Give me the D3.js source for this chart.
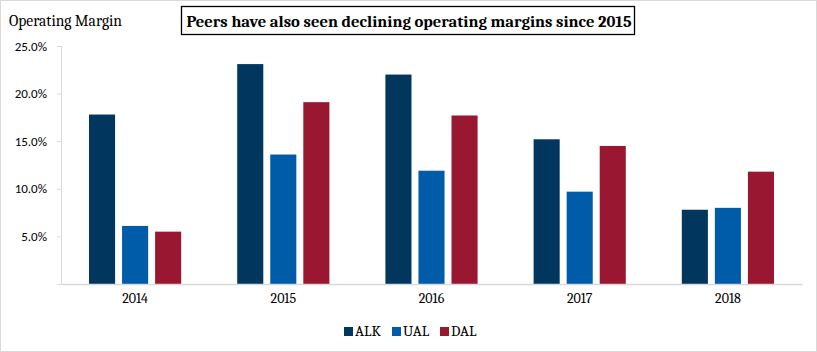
<!DOCTYPE html>
<html>
<head>
<meta charset="utf-8">
<script src="https://cdn.jsdelivr.net/npm/d3@7"></script>
<style>
  body { margin: 0; background: #fff; }
  svg { display: block; }
</style>
</head>
<body>
<svg id="drawing_region"></svg>
<script>
// chart data
const years = ['2014', '2015', '2016', '2017', '2018'];
const carriers = ['ALK', 'UAL', 'DAL'];
const ALK = [17.8, 23.1, 22.0, 15.2, 7.8];
const UAL = [6.1, 13.6, 11.9, 9.7, 8.0];
const DAL = [5.5, 19.1, 17.7, 14.5, 11.8];
const yTicks = [5, 10, 15, 20, 25];
const colors = ['#01375f', '#005ca9', '#9a1732'];

const width = 817, height = 352;
const margin = {top: 46, right: 15, bottom: 68, left: 61};
const innerW = width - margin.left - margin.right;
const innerH = height - margin.top - margin.bottom;

const svg = d3.select('#drawing_region')
    .attr('width', width)
    .attr('height', height);

// outer frame
svg.append('rect')
    .attr('x', 0.5).attr('y', 0.5)
    .attr('width', width - 1).attr('height', height - 1)
    .attr('fill', 'none')
    .attr('stroke', '#d9d9d9');

const chart = svg.append('g')
    .attr('transform', `translate(${margin.left}, ${margin.top})`);

const xscale = d3.scaleBand().domain(years).range([0, innerW]);
const yscale = d3.scaleLinear().domain([0, 25]).range([innerH, 0]);

const series = [ALK, UAL, DAL];
const barW = xscale.bandwidth() * 0.176;
const step = xscale.bandwidth() * 0.223;

// y axis
const yaxis = d3.axisLeft(yscale)
    .tickValues(yTicks)
    .tickSize(4)
    .tickPadding(10)
    .tickFormat(d => d3.format('.1f')(d) + '%');

const yg = chart.append('g').call(yaxis);
yg.select('.domain').attr('stroke', '#d9d9d9');
yg.selectAll('.tick line').attr('stroke', '#d9d9d9');
yg.selectAll('.tick text')
    .attr('fill', '#000')
    .style('font-family', 'Carlito, "Liberation Sans", sans-serif')
    .style('font-size', '13px');

// bars
carriers.forEach((c, i) => {
    chart.append('g').selectAll('rect')
        .data(series[i])
        .join('rect')
        .attr('x', (d, j) => xscale(years[j]) + xscale.bandwidth() / 2 + (i - 1) * step - barW / 2)
        .attr('y', d => yscale(d))
        .attr('width', barW)
        .attr('height', d => innerH - yscale(d))
        .attr('fill', colors[i]);
});

// x axis
const xaxis = d3.axisBottom(xscale).tickSize(0).tickPadding(9);
const xg = chart.append('g')
    .attr('transform', `translate(0, ${innerH})`)
    .call(xaxis);
xg.select('.domain').attr('stroke', '#d9d9d9').attr('stroke-width', 1.5);
xg.selectAll('.tick text')
    .attr('fill', '#000')
    .style('font-family', 'Cambria, "Liberation Serif", serif')
    .style('font-size', '14px');

// y axis title
svg.append('text')
    .attr('x', 9).attr('y', 26)
    .style('font-family', 'Cambria, "Liberation Serif", serif')
    .style('font-size', '15.5px')
    .text('Operating Margin');

// title box
svg.append('rect')
    .attr('x', 181.5).attr('y', 6.5)
    .attr('width', 453).attr('height', 28)
    .attr('fill', '#fff')
    .attr('stroke', '#000')
    .attr('stroke-width', 1.3);
svg.append('text')
    .attr('x', 409).attr('y', 27)
    .attr('text-anchor', 'middle')
    .style('font-family', 'Cambria, "Liberation Serif", serif')
    .style('font-weight', 'bold')
    .style('font-size', '16.6px')
    .text('Peers have also seen declining operating margins since 2015');

// legend
const legendX = [344, 392, 440];
const legend = svg.append('g');
carriers.forEach((c, i) => {
    legend.append('rect')
        .attr('x', legendX[i]).attr('y', 327)
        .attr('width', 9).attr('height', 9)
        .attr('fill', colors[i]);
    legend.append('text')
        .attr('x', legendX[i] + 11).attr('y', 336)
        .style('font-family', 'Cambria, "Liberation Serif", serif')
        .style('font-size', '15px')
        .text(c);
});
</script>
</body>
</html>
